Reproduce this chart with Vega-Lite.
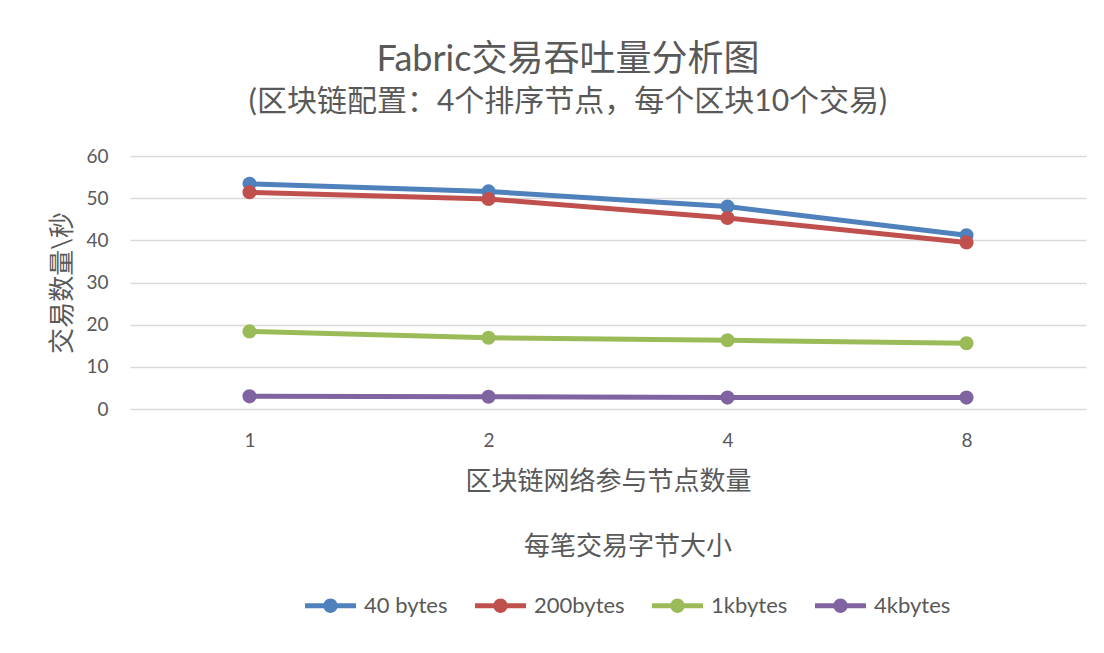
{
  "$schema": "https://vega.github.io/schema/vega-lite/v6.json",
  "width": 956,
  "height": 253,
  "autosize": {"type": "none"},
  "padding": {"left": 130, "top": 156, "right": 18, "bottom": 244},
  "background": "white",
  "title": {
    "text": "Fabric交易吞吐量分析图",
    "subtitle": "(区块链配置：4个排序节点，每个区块10个交易)",
    "anchor": "middle",
    "frame": "bounds",
    "font": "Lato, Noto Sans CJK SC",
    "subtitleFont": "Lato, Noto Sans CJK SC",
    "fontSize": 36,
    "fontWeight": "normal",
    "subtitleFontSize": 30,
    "color": "#595959",
    "subtitleColor": "#595959",
    "subtitlePadding": 8,
    "offset": 29
  },
  "data": {
    "values": [
      {"nodes": "1", "series": "40 bytes", "tps": 53.4},
      {"nodes": "2", "series": "40 bytes", "tps": 51.6},
      {"nodes": "4", "series": "40 bytes", "tps": 48.0},
      {"nodes": "8", "series": "40 bytes", "tps": 41.2},
      {"nodes": "1", "series": "200bytes", "tps": 51.4},
      {"nodes": "2", "series": "200bytes", "tps": 49.8},
      {"nodes": "4", "series": "200bytes", "tps": 45.3},
      {"nodes": "8", "series": "200bytes", "tps": 39.5},
      {"nodes": "1", "series": "1kbytes", "tps": 18.4},
      {"nodes": "2", "series": "1kbytes", "tps": 16.9},
      {"nodes": "4", "series": "1kbytes", "tps": 16.3},
      {"nodes": "8", "series": "1kbytes", "tps": 15.6},
      {"nodes": "1", "series": "4kbytes", "tps": 3.0},
      {"nodes": "2", "series": "4kbytes", "tps": 2.9},
      {"nodes": "4", "series": "4kbytes", "tps": 2.7},
      {"nodes": "8", "series": "4kbytes", "tps": 2.7}
    ]
  },
  "encoding": {
    "x": {
      "field": "nodes",
      "type": "ordinal",
      "sort": ["1", "2", "4", "8"],
      "scale": {"type": "point", "padding": 0.5},
      "axis": {
        "title": "区块链网络参与节点数量",
        "labelAngle": 0,
        "ticks": false,
        "domain": false,
        "labelPadding": 22,
        "titlePadding": 18,
        "labelFontSize": 19,
        "titleFontSize": 26,
        "titleFontWeight": "normal"
      }
    },
    "y": {
      "field": "tps",
      "type": "quantitative",
      "scale": {"domain": [0, 60]},
      "axis": {
        "title": "交易数量\\秒",
        "values": [0, 10, 20, 30, 40, 50, 60],
        "ticks": false,
        "domain": false,
        "grid": true,
        "gridColor": "#D9D9D9",
        "gridWidth": 1.5,
        "labelPadding": 22,
        "titlePadding": 10,
        "labelFontSize": 19,
        "titleFontSize": 26,
        "titleFontWeight": "normal"
      }
    },
    "color": {
      "field": "series",
      "type": "nominal",
      "sort": ["40 bytes", "200bytes", "1kbytes", "4kbytes"],
      "scale": {
        "domain": ["40 bytes", "200bytes", "1kbytes", "4kbytes"],
        "range": ["#4F81BD", "#C0504D", "#9BBB59", "#8064A2"]
      },
      "legend": {
        "title": "每笔交易字节大小",
        "orient": "none",
        "legendX": 175,
        "legendY": 378,
        "direction": "horizontal",
        "titleAnchor": "middle",
        "titleOrient": "top",
        "titleFontSize": 26,
        "titleFontWeight": "normal",
        "titlePadding": 20,
        "titleLimit": 0,
        "labelFontSize": 22,
        "labelOffset": 8,
        "columnPadding": 27,
        "symbolType": "M-1,-0.1H1V0.1H-1Z M0.28,0 A0.28,0.28 0 1,1 -0.28,0 A0.28,0.28 0 1,1 0.28,0",
        "symbolSize": 2600,
        "symbolStrokeWidth": 0
      }
    }
  },
  "layer": [
    {"mark": {"type": "line", "strokeWidth": 5}},
    {"mark": {"type": "point", "filled": true, "size": 200, "opacity": 1}}
  ],
  "config": {
    "font": "Lato, Noto Sans CJK SC",
    "axis": {"labelColor": "#595959", "titleColor": "#595959", "labelFont": "Lato, Noto Sans CJK SC", "titleFont": "Lato, Noto Sans CJK SC"},
    "legend": {"labelColor": "#595959", "titleColor": "#595959", "labelFont": "Lato, Noto Sans CJK SC", "titleFont": "Lato, Noto Sans CJK SC"},
    "view": {"stroke": null}
  }
}
